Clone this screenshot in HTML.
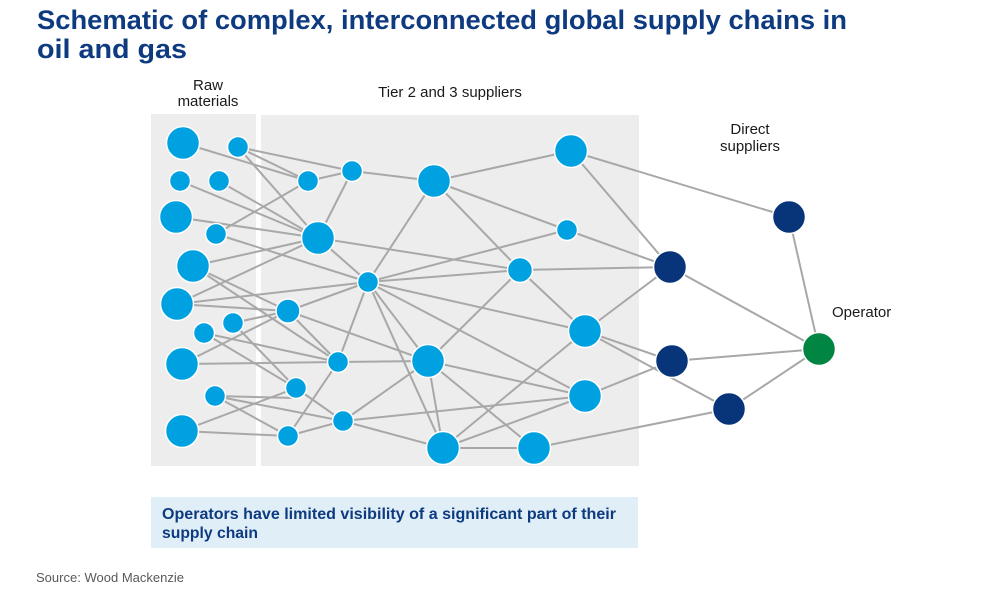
<!DOCTYPE html>
<html>
<head>
<meta charset="utf-8">
<style>
  html, body { margin: 0; padding: 0; background: #ffffff; }
  svg { display: block; }
</style>
</head>
<body>
<svg width="1000" height="600" viewBox="0 0 1000 600" xmlns="http://www.w3.org/2000/svg">
  <rect x="0" y="0" width="1000" height="600" fill="#ffffff"/>

  <!-- Title -->
  <text x="37" y="29" font-family="Liberation Sans, Arial, sans-serif" font-weight="bold" font-size="27" fill="#0e3a80" textLength="810" lengthAdjust="spacingAndGlyphs">Schematic of complex, interconnected global supply chains in</text>
  <text x="37" y="58" font-family="Liberation Sans, Arial, sans-serif" font-weight="bold" font-size="27" fill="#0e3a80" textLength="150" lengthAdjust="spacingAndGlyphs">oil and gas</text>

  <!-- Column labels -->
  <g font-family="Liberation Sans, Arial, sans-serif" font-size="15" fill="#1a1a1a" text-anchor="middle">
    <text x="208" y="90">Raw</text>
    <text x="208" y="106">materials</text>
    <text x="450" y="97">Tier 2 and 3 suppliers</text>
    <text x="750" y="134">Direct</text>
    <text x="750" y="151">suppliers</text>
  </g>
  <text x="832" y="317" font-family="Liberation Sans, Arial, sans-serif" font-size="15" fill="#1a1a1a">Operator</text>

  <!-- Panels -->
  <rect x="151" y="114" width="105" height="352" fill="#ededed"/>
  <rect x="261" y="115" width="378" height="351" fill="#ededed"/>

  <!-- Connectors -->
  <g stroke="#a8a8a8" stroke-width="2" fill="none" stroke-linecap="round">
    <!-- raw materials -->
    <line x1="183" y1="143" x2="308" y2="181"/>
    <line x1="238" y1="147" x2="308" y2="181"/>
    <line x1="238" y1="147" x2="352" y2="171"/>
    <line x1="238" y1="147" x2="318" y2="238"/>
    <line x1="180" y1="181" x2="318" y2="238"/>
    <line x1="219" y1="181" x2="318" y2="238"/>
    <line x1="176" y1="217" x2="318" y2="238"/>
    <line x1="216" y1="234" x2="308" y2="181"/>
    <line x1="216" y1="234" x2="368" y2="282"/>
    <line x1="193" y1="266" x2="318" y2="238"/>
    <line x1="193" y1="266" x2="288" y2="311"/>
    <line x1="193" y1="266" x2="338" y2="362"/>
    <line x1="177" y1="304" x2="318" y2="238"/>
    <line x1="177" y1="304" x2="368" y2="282"/>
    <line x1="177" y1="304" x2="288" y2="311"/>
    <line x1="233" y1="323" x2="288" y2="311"/>
    <line x1="233" y1="323" x2="296" y2="388"/>
    <line x1="204" y1="333" x2="338" y2="362"/>
    <line x1="204" y1="333" x2="296" y2="388"/>
    <line x1="182" y1="364" x2="288" y2="311"/>
    <line x1="182" y1="364" x2="338" y2="362"/>
    <line x1="215" y1="396" x2="296" y2="398"/>
    <line x1="215" y1="396" x2="343" y2="421"/>
    <line x1="215" y1="396" x2="288" y2="436"/>
    <line x1="182" y1="431" x2="296" y2="388"/>
    <line x1="182" y1="431" x2="288" y2="436"/>
    <!-- tier 2/3 internal -->
    <line x1="308" y1="181" x2="352" y2="171"/>
    <line x1="352" y1="171" x2="318" y2="238"/>
    <line x1="352" y1="171" x2="434" y2="181"/>
    <line x1="318" y1="238" x2="520" y2="270"/>
    <line x1="318" y1="238" x2="368" y2="282"/>
    <line x1="288" y1="311" x2="368" y2="282"/>
    <line x1="288" y1="311" x2="428" y2="361"/>
    <line x1="288" y1="311" x2="338" y2="362"/>
    <line x1="338" y1="362" x2="368" y2="282"/>
    <line x1="338" y1="362" x2="428" y2="361"/>
    <line x1="338" y1="362" x2="288" y2="436"/>
    <line x1="296" y1="388" x2="343" y2="421"/>
    <line x1="288" y1="436" x2="343" y2="421"/>
    <line x1="343" y1="421" x2="428" y2="361"/>
    <line x1="343" y1="421" x2="585" y2="396"/>
    <line x1="343" y1="421" x2="443" y2="448"/>
    <line x1="368" y1="282" x2="434" y2="181"/>
    <line x1="368" y1="282" x2="567" y2="230"/>
    <line x1="368" y1="282" x2="520" y2="270"/>
    <line x1="368" y1="282" x2="585" y2="331"/>
    <line x1="368" y1="282" x2="585" y2="396"/>
    <line x1="368" y1="282" x2="428" y2="361"/>
    <line x1="368" y1="282" x2="443" y2="448"/>
    <line x1="434" y1="181" x2="571" y2="151"/>
    <line x1="434" y1="181" x2="567" y2="230"/>
    <line x1="434" y1="181" x2="520" y2="270"/>
    <line x1="520" y1="270" x2="585" y2="331"/>
    <line x1="520" y1="270" x2="428" y2="361"/>
    <line x1="428" y1="361" x2="585" y2="396"/>
    <line x1="428" y1="361" x2="534" y2="448"/>
    <line x1="428" y1="361" x2="443" y2="448"/>
    <line x1="585" y1="331" x2="443" y2="448"/>
    <line x1="585" y1="396" x2="443" y2="448"/>
    <line x1="443" y1="448" x2="534" y2="448"/>
    <!-- to direct suppliers -->
    <line x1="520" y1="270" x2="670" y2="267"/>
    <line x1="567" y1="230" x2="670" y2="267"/>
    <line x1="571" y1="151" x2="789" y2="217"/>
    <line x1="571" y1="151" x2="670" y2="267"/>
    <line x1="585" y1="331" x2="670" y2="267"/>
    <line x1="585" y1="331" x2="672" y2="361"/>
    <line x1="585" y1="331" x2="729" y2="409"/>
    <line x1="585" y1="396" x2="672" y2="361"/>
    <line x1="534" y1="448" x2="729" y2="409"/>
    <!-- to operator -->
    <line x1="789" y1="217" x2="819" y2="349"/>
    <line x1="670" y1="267" x2="819" y2="349"/>
    <line x1="672" y1="361" x2="819" y2="349"/>
    <line x1="729" y1="409" x2="819" y2="349"/>
  </g>

  <!-- Nodes -->
  <g fill="#00a1e0" stroke="#ffffff" stroke-width="1.5">
    <circle cx="183" cy="143" r="16.5"/>
    <circle cx="238" cy="147" r="10.5"/>
    <circle cx="180" cy="181" r="10.5"/>
    <circle cx="219" cy="181" r="10.5"/>
    <circle cx="176" cy="217" r="16.5"/>
    <circle cx="216" cy="234" r="10.5"/>
    <circle cx="193" cy="266" r="16.5"/>
    <circle cx="177" cy="304" r="16.5"/>
    <circle cx="233" cy="323" r="10.5"/>
    <circle cx="204" cy="333" r="10.5"/>
    <circle cx="182" cy="364" r="16.5"/>
    <circle cx="215" cy="396" r="10.5"/>
    <circle cx="182" cy="431" r="16.5"/>

    <circle cx="308" cy="181" r="10.5"/>
    <circle cx="352" cy="171" r="10.5"/>
    <circle cx="318" cy="238" r="16.5"/>
    <circle cx="368" cy="282" r="10.5"/>
    <circle cx="288" cy="311" r="12"/>
    <circle cx="338" cy="362" r="10.5"/>
    <circle cx="296" cy="388" r="10.5"/>
    <circle cx="288" cy="436" r="10.5"/>
    <circle cx="343" cy="421" r="10.5"/>
    <circle cx="434" cy="181" r="16.5"/>
    <circle cx="571" cy="151" r="16.5"/>
    <circle cx="567" cy="230" r="10.5"/>
    <circle cx="520" cy="270" r="12.5"/>
    <circle cx="585" cy="331" r="16.5"/>
    <circle cx="428" cy="361" r="16.5"/>
    <circle cx="585" cy="396" r="16.5"/>
    <circle cx="443" cy="448" r="16.5"/>
    <circle cx="534" cy="448" r="16.5"/>
  </g>
  <g fill="#08357a" stroke="#ffffff" stroke-width="1.5">
    <circle cx="789" cy="217" r="16.5"/>
    <circle cx="670" cy="267" r="16.5"/>
    <circle cx="672" cy="361" r="16.5"/>
    <circle cx="729" cy="409" r="16.5"/>
  </g>
  <circle cx="819" cy="349" r="16.5" fill="#008542" stroke="#ffffff" stroke-width="1.5"/>

  <!-- Callout -->
  <rect x="151" y="497" width="487" height="51" fill="#e0eef8"/>
  <g font-family="Liberation Sans, Arial, sans-serif" font-weight="bold" font-size="15.5" fill="#0e3a80">
    <text x="162" y="519" textLength="454" lengthAdjust="spacingAndGlyphs">Operators have limited visibility of a significant part of their</text>
    <text x="162" y="538" textLength="96" lengthAdjust="spacingAndGlyphs">supply chain</text>
  </g>

  <!-- Source -->
  <text x="36" y="582" font-family="Liberation Sans, Arial, sans-serif" font-size="13" fill="#595959" textLength="148" lengthAdjust="spacingAndGlyphs">Source: Wood Mackenzie</text>
</svg>
</body>
</html>
